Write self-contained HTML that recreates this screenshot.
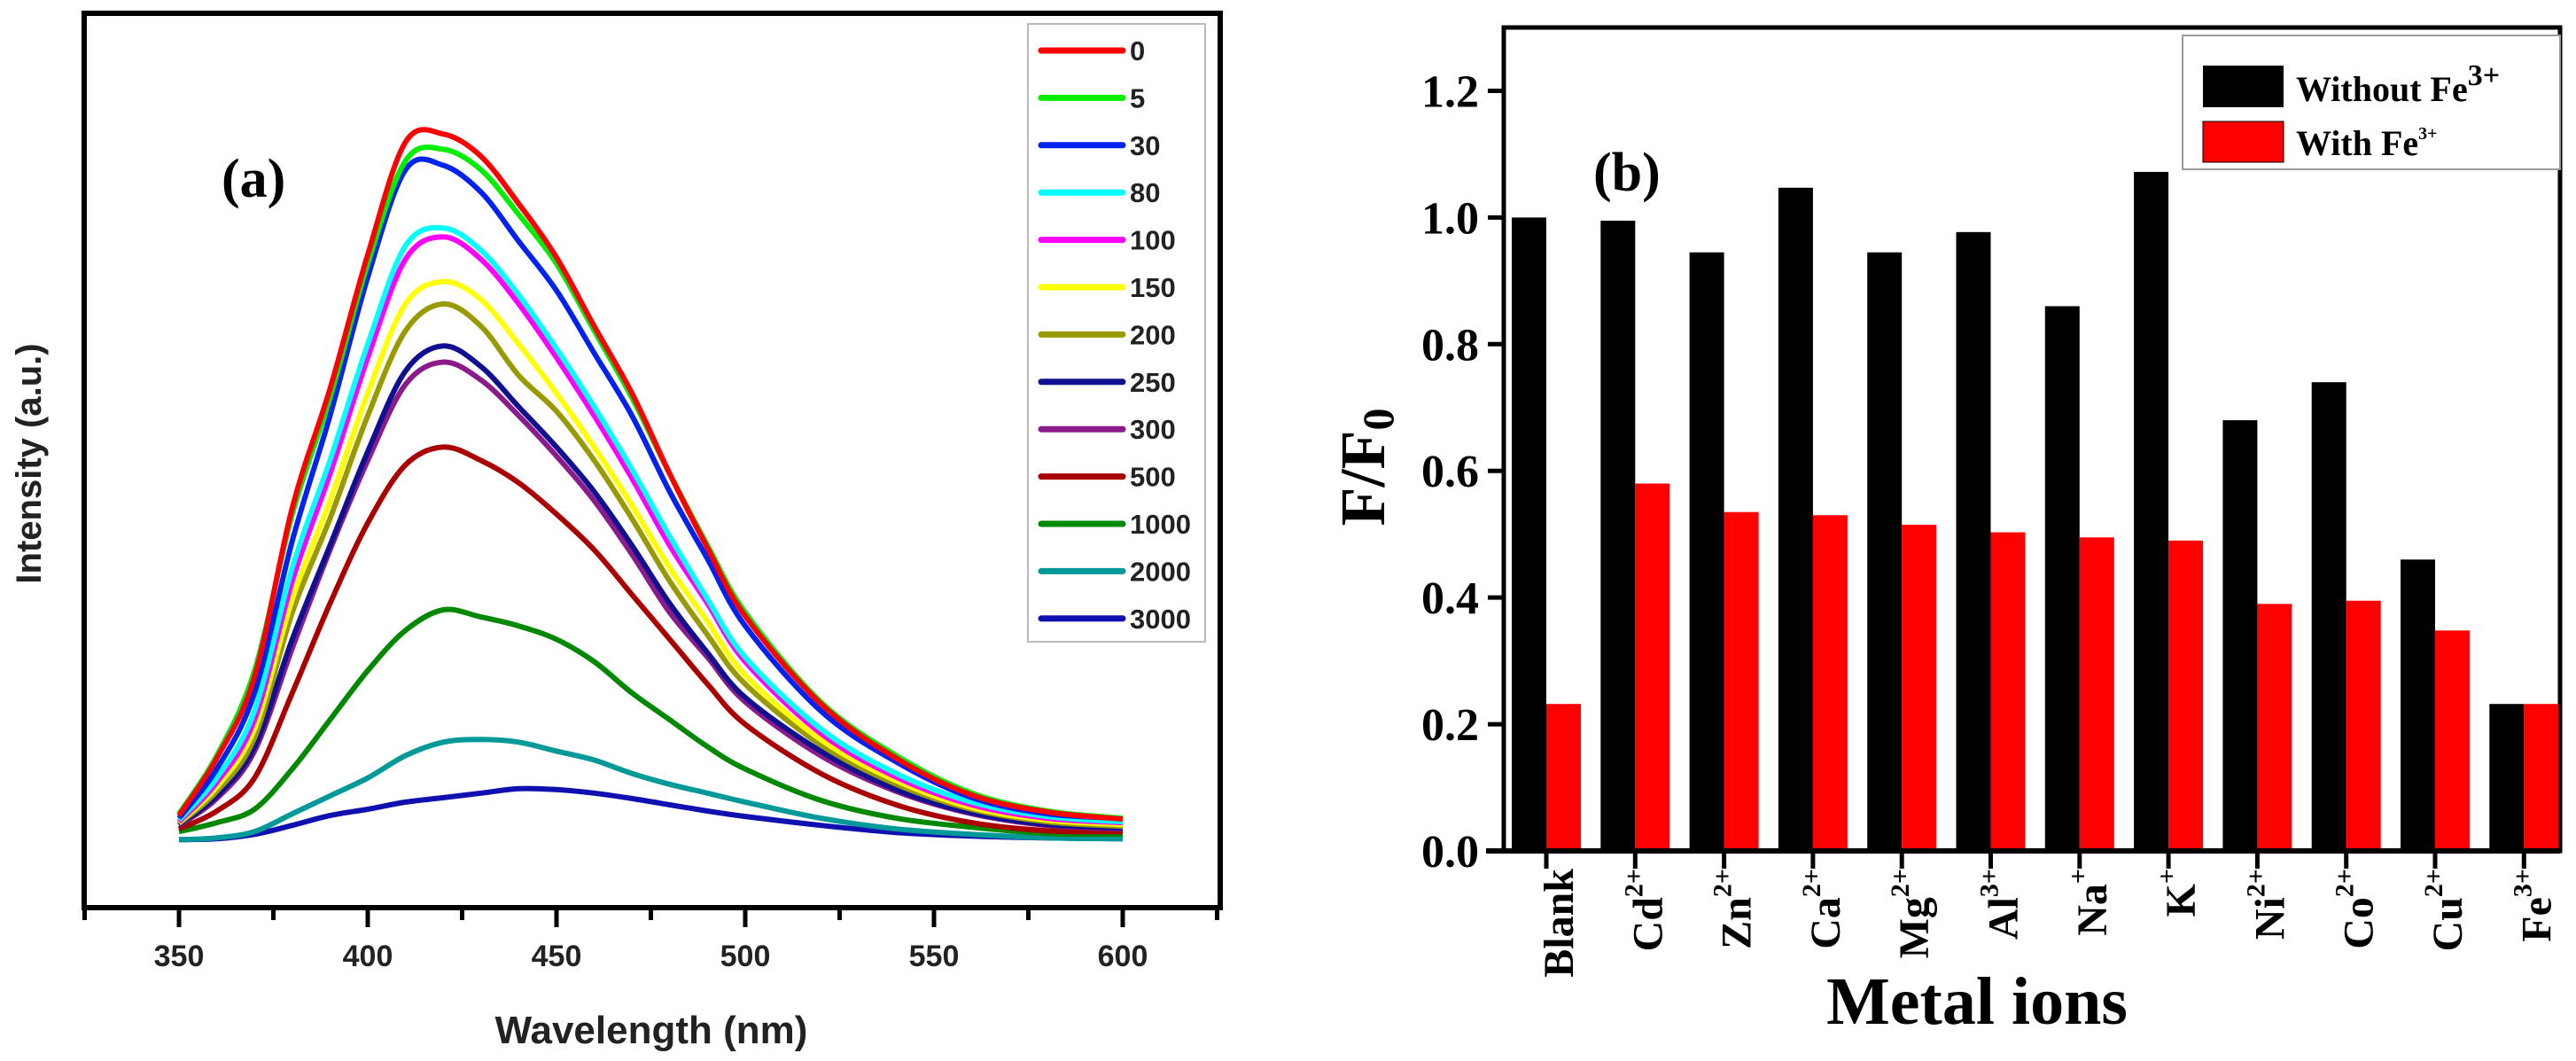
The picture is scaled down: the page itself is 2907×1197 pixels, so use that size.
<!DOCTYPE html>
<html><head><meta charset="utf-8"><style>
html,body{margin:0;padding:0;background:#fff;}
svg{display:block;}
.sans{font-family:"Liberation Sans",sans-serif;font-weight:bold;}
.serif{font-family:"Liberation Serif",serif;font-weight:bold;}
</style></head><body>
<svg id="fig" width="2907" height="1197" viewBox="0 0 2907 1197" xmlns="http://www.w3.org/2000/svg">
<g id="pa"></g>
<g id="pb"></g>
</svg>
<script>
// ---------- Panel (a) data ----------
const wavelengths = [350,360,370,380,390,400,410,420,430,440,450,460,470,480,490,500,520,540,560,580,600];
const seriesLabels = ["0","5","30","80","100","150","200","250","300","500","1000","2000","3000"];
const seriesColors = ["#ff0000","#00ee00","#0022ee","#00ffff","#ff00ff","#ffff00","#999900","#101090","#8b1a8b","#aa0000","#008800","#009999","#1010b0"];
const s0 = [10.3,16.7,25.8,44.7,58,73,85.6,86.5,84,78.7,72.7,65,57.5,48.5,40.2,32.6,22.8,16.7,12.6,10.7,9.9];
const s5 = [10.5,17,26.5,44,57,72,83.5,84.8,82.5,77.5,72,64.5,57,48.5,40.5,33,23,17,12.8,10.8,10];
const s30 = [10,15.5,24,41,55,70.5,82.5,83,80,74.5,69,62,55,46.5,39,31.5,22,16.3,12.3,10.5,10];
const s80 = [9.8,14.5,22,38,50,63,74,76,73.5,68.5,62.5,56,49,41.5,34.5,28,20,15,11.8,10.2,9.6];
const s100 = [9.6,14,21,36.5,48.5,61.5,72.5,75,72.5,67.5,61.5,55,48,40.5,34,27.5,19.5,14.6,11.5,10,9.5];
const s150 = [9.5,13.5,20,34.5,45.5,57.5,67.5,70,68,63,57.5,51.5,45,38,32,26,18.8,14.2,11.2,9.8,9.3];
const s200 = [9.4,13,19,33,43.5,55,64.5,67.5,65,59.5,55.5,50,43.5,36.5,30.5,25,18.2,13.8,11,9.6,9.1];
const s250 = [9.3,12.5,18,30,40.5,51,60,62.8,60.5,56,51.5,46.5,40.5,34,28.5,23.5,17.5,13.2,10.6,9.3,8.9];
const s300 = [9.2,12.2,17.5,29,40,50,58.5,61,59,55,50.5,45.5,39.5,33,28,23,17,13,10.5,9.2,8.8];
const s500 = [8.8,10.8,14.5,24,34,43,49.5,51.5,50,47.5,44,40,35,30,25,20.5,15,11.5,9.5,8.6,8.5];
const s1000 = [8.5,9.5,11,15.5,21,26.5,31,33.3,32.5,31.5,30,27.5,24,21,18,15.5,12,10,9,8.3,8.2];
const s2000 = [7.6,7.8,8.5,10.5,12.5,14.5,17,18.5,18.8,18.5,17.5,16.5,15,13.8,12.8,11.8,10,8.8,8.2,7.8,7.7];
const s3000 = [7.6,7.7,8.2,9.2,10.3,11,11.8,12.3,12.8,13.3,13.2,12.8,12.2,11.5,10.8,10.2,9.2,8.4,8,7.8,7.7];
const allSeries = [s0,s5,s30,s80,s100,s150,s200,s250,s300,s500,s1000,s2000,s3000];
const xTicksA = [350,400,450,500,550,600];

// ---------- Panel (b) data ----------
const ions = [["Blank",""],["Cd","2+"],["Zn","2+"],["Ca","2+"],["Mg","2+"],["Al","3+"],["Na","+"],["K","+"],["Ni","2+"],["Co","2+"],["Cu","2+"],["Fe","3+"]];
const withoutFe = [1.0,0.995,0.945,1.047,0.945,0.977,0.86,1.072,0.68,0.74,0.46,0.232];
const withFe = [0.232,0.58,0.535,0.53,0.515,0.503,0.495,0.49,0.39,0.395,0.348,0.232];
const yTicksB = ["0.0","0.2","0.4","0.6","0.8","1.0","1.2"];

const NS="http://www.w3.org/2000/svg";
function mk(parent,tag,attrs,text){const e=document.createElementNS(NS,tag);for(const k in attrs)e.setAttribute(k,attrs[k]);if(text!==undefined)e.textContent=text;parent.appendChild(e);return e;}

// ===== Panel A =====
const pa=document.getElementById('pa');
const axL=95, axR=1377, axT=15, axB=1024;
const xA = w => 202 + (w-350)*(213/50);
const yA = v => axB - (axB-axT)*v/100;
let e;
e=mk(pa,'rect',{x:axL,y:axT,width:axR-axL,height:axB-axT,fill:'none',stroke:'#000','stroke-width':6});


for(let w=325; w<=625; w+=25){
  const major = (w%50===0) && w>=350 && w<=600;
  e=mk(pa,'line',{x1:xA(w),x2:xA(w),y1:axB,y2:axB+(major?22:14),stroke:'#000','stroke-width':5});
  
  
}
xTicksA.forEach(t=>{
  e=mk(pa,'text',{x:xA(t),y:1090,'text-anchor':'middle','font-size':34,class:'sans',fill:'#222'},String(t));
  
  
});
e=mk(pa,'text',{x:735,y:1177,'text-anchor':'middle','font-size':44,class:'sans',fill:'#222'},'Wavelength (nm)');


e=mk(pa,'text',{x:0,y:0,'text-anchor':'middle','font-size':40,class:'sans',fill:'#222',transform:'translate(46,523) rotate(-90)'},'Intensity (a.u.)');


function smoothPath(pts){
  let d='M'+pts[0][0].toFixed(1)+','+pts[0][1].toFixed(1);
  for(let i=0;i<pts.length-1;i++){
    const p0=pts[Math.max(0,i-1)],p1=pts[i],p2=pts[i+1],p3=pts[Math.min(pts.length-1,i+2)];
    const c1=[p1[0]+(p2[0]-p0[0])/6,p1[1]+(p2[1]-p0[1])/6];
    const c2=[p2[0]-(p3[0]-p1[0])/6,p2[1]-(p3[1]-p1[1])/6];
    d+=' C'+c1[0].toFixed(1)+','+c1[1].toFixed(1)+' '+c2[0].toFixed(1)+','+c2[1].toFixed(1)+' '+p2[0].toFixed(1)+','+p2[1].toFixed(1);
  }
  return d;
}
for(let s=allSeries.length-1;s>=0;s--){
  const pts=wavelengths.map((w,i)=>[xA(w),yA(allSeries[s][i])]);
  e=mk(pa,'path',{d:smoothPath(pts),fill:'none',stroke:seriesColors[s],'stroke-width':6,'stroke-linejoin':'round'});
  
  
}
const lg=mk(pa,'g',{});


e=mk(lg,'rect',{x:1160,y:27,width:200,height:697,fill:'#fff',stroke:'#bbb','stroke-width':2});


seriesLabels.forEach((lab,i)=>{
  const y=57+i*53.4;
  const g=mk(lg,'g',{});
  
  
  mk(g,'line',{x1:1175,x2:1267,y1:y,y2:y,stroke:seriesColors[i],'stroke-width':7,'stroke-linecap':'round'});
  mk(g,'text',{x:1275,y:y+11,'font-size':31,class:'sans',fill:'#222'},lab);
});
e=mk(pa,'text',{x:250,y:222,'font-size':62,class:'serif',fill:'#000'},'(a)');



// ===== Panel B =====
const pb=document.getElementById('pb');
const bL=1697,bR=2889,bT=31,bB=960;
const yB = v => bB - v*(bB-bT)/1.3;
const tickX = i => 1745 + i*100.3;
const bw=39;
e=mk(pb,'rect',{x:bL,y:bT,width:bR-bL,height:bB-bT,fill:'none',stroke:'#000','stroke-width':5});


withoutFe.forEach((v,i)=>{
  e=mk(pb,'rect',{x:tickX(i)-bw,y:yB(v),width:bw,height:bB-yB(v),fill:'#000'});
  
  
});
withFe.forEach((v,i)=>{
  e=mk(pb,'rect',{x:tickX(i),y:yB(v),width:bw,height:bB-yB(v),fill:'#ff0000'});
  
  
});
e=mk(pb,'line',{x1:bL-20,x2:bR,y1:bB,y2:bB,stroke:'#000','stroke-width':6});


yTicksB.forEach(t=>{
  const y=yB(parseFloat(t));
  e=mk(pb,'line',{x1:bL-18,x2:bL,y1:y,y2:y,stroke:'#000','stroke-width':5});
  
  
  e=mk(pb,'text',{x:1669,y:y+18,'text-anchor':'end','font-size':52,class:'serif',fill:'#000'},t);
  
  
});
ions.forEach((ion,i)=>{
  const x=tickX(i);
  e=mk(pb,'line',{x1:x,x2:x,y1:bB,y2:bB+20,stroke:'#000','stroke-width':5});
  
  
  const t=mk(pb,'text',{x:0,y:0,'text-anchor':'end','font-size':48,class:'serif',fill:'#000',transform:'translate('+(x+30)+','+(bB+20)+') rotate(-90)'});
  
  
  mk(t,'tspan',{},ion[0]);
  if(ion[1]) mk(t,'tspan',{'font-size':30,dy:-22},ion[1]);
});
e=mk(pb,'text',{x:2231,y:1155,'text-anchor':'middle','font-size':76,class:'serif',fill:'#000'},'Metal ions');


const yt=mk(pb,'text',{x:0,y:0,'text-anchor':'middle','font-size':72,class:'serif',fill:'#000',transform:'translate(1562,527) rotate(-90)'});


mk(yt,'tspan',{},'F/F');
mk(yt,'tspan',{'font-size':50,dy:10},'0');
const lb=mk(pb,'g',{});


mk(lb,'rect',{x:2463,y:40,width:426,height:151,fill:'#fff',stroke:'#999','stroke-width':2});
const le1=mk(lb,'g',{});


mk(le1,'rect',{x:2486,y:74,width:91,height:47,fill:'#000'});
const lt1=mk(le1,'text',{x:2591,y:114,'font-size':40,class:'serif',fill:'#000'});
mk(lt1,'tspan',{},'Without Fe');
mk(lt1,'tspan',{'font-size':34,dy:-18},'3+');
const le2=mk(lb,'g',{});


mk(le2,'rect',{x:2486,y:137,width:91,height:46,fill:'#ff0000',stroke:'#000','stroke-width':1});
const lt2=mk(le2,'text',{x:2591,y:175,'font-size':40,class:'serif',fill:'#000'});
mk(lt2,'tspan',{},'With Fe');
mk(lt2,'tspan',{'font-size':20,dy:-18},'3+');
e=mk(pb,'text',{x:1798,y:215,'font-size':62,class:'serif',fill:'#000'},'(b)');


</script>
</body></html>
